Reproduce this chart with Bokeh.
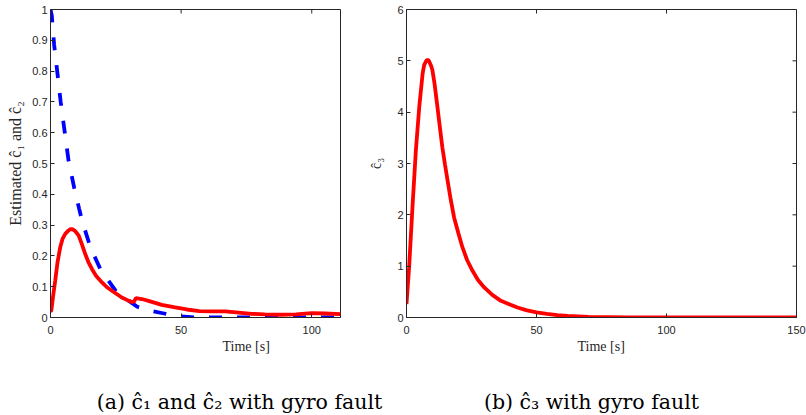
import math
from bokeh.plotting import figure
from bokeh.models import Range1d, FixedTicker, Title
from bokeh.layouts import row, column
from bokeh.core.properties import value
from bokeh.embed import file_html
from bokeh.resources import INLINE

# ---- data ----
t_c1 = [0, 0.3, 1.0, 1.8, 2.7, 3.7, 4.6, 5.6, 6.8, 7.4, 8.0, 8.6, 9.5, 10.8, 12.0, 13.3,
        14.5, 15.9, 17.5, 19.7, 21.5, 23.5, 27.3, 30.0, 31.1, 32.0, 32.7, 35.0, 37.5,
        42.6, 47.7, 52.2, 57, 62, 67, 72, 77, 82, 88, 94, 100, 105, 111]
c1 = [0.02, 0.022, 0.07, 0.119, 0.18, 0.227, 0.255, 0.271, 0.282, 0.286, 0.287, 0.286,
      0.28, 0.266, 0.238, 0.206, 0.18, 0.157, 0.135, 0.114, 0.099, 0.087, 0.065, 0.054,
      0.050, 0.052, 0.063, 0.060, 0.054, 0.041, 0.033, 0.026, 0.021, 0.020, 0.020, 0.016,
      0.012, 0.010, 0.009, 0.010, 0.014, 0.013, 0.011]

t_c2 = [0, 0.5, 1.4, 2.7, 3.9, 5.4, 6.9, 9.1, 11.0, 12.1, 15.3, 19.1, 24.9, 30.0, 33.2,
        37.1, 43.5, 48, 55, 70, 90, 111]
c2 = [1.0, 0.98, 0.885, 0.79, 0.70, 0.605, 0.51, 0.42, 0.352, 0.314, 0.227, 0.157, 0.087,
      0.054, 0.035, 0.024, 0.013, 0.005, 0.0, 0.0, 0.0, 0.0]

t_c3 = [0, 1.0, 2.3, 3.6, 4.9, 6.2, 6.8, 7.6, 8.1, 8.6, 9.5, 10.0, 10.8, 11.9, 12.8,
        13.8, 14.8, 15.8, 17.0, 18.3, 19.9, 21.5, 23.3, 25.4, 27.5, 29.9, 33.0, 36.3,
        39.5, 42.7, 46, 50, 54, 58, 62, 70, 85, 100, 125, 150]
c3 = [0.26, 0.975, 2.15, 3.25, 4.1, 4.75, 4.92, 5.0, 5.02, 5.0, 4.9, 4.81, 4.55, 4.1,
      3.72, 3.31, 2.98, 2.67, 2.3, 1.95, 1.65, 1.37, 1.12, 0.91, 0.73, 0.585, 0.44, 0.325,
      0.26, 0.195, 0.145, 0.10, 0.07, 0.045, 0.03, 0.012, 0.003, 0.0, 0.0, 0.0]

x_ticks = [0, 50, 100, 150]
y1_ticks = [0, 0.1, 0.2, 0.3, 0.4, 0.5, 0.6, 0.7, 0.8, 0.9, 1]
y1_labels = ["0", "0.1", "0.2", "0.3", "0.4", "0.5", "0.6", "0.7", "0.8", "0.9", "1"]
y3_ticks = [0, 1, 2, 3, 4, 5, 6]
y3_labels = ["0", "1", "2", "3", "4", "5", "6"]
x1_end, x3_end = 111, 150

ylabel1 = "Estimated ĉ₁ and ĉ₂"
ylabel3 = "ĉ₃"
xlabel = "Time [s]"
captions = ["(a) ĉ₁ and ĉ₂ with gyro fault", "(b) ĉ₃ with gyro fault"]

AX = "#262626"
SANS = "Liberation Sans"
SERIF = "Liberation Serif"
CAPFONT = "DejaVu Serif"
H = 375          # height of the two plot panels
CAP_H = 40       # height of the caption strip below them
W1, W2 = 365, 441


def style_axis(ax, standoff):
    ax.major_tick_in = 4
    ax.major_tick_out = 0
    ax.minor_tick_line_color = None
    ax.axis_line_color = AX
    ax.major_tick_line_color = AX
    ax.major_label_text_color = AX
    ax.major_label_text_font = SANS
    ax.major_label_text_font_size = "11px"
    ax.major_label_standoff = standoff


def make_fig(width, xr, yr, bl, br):
    p = figure(width=width, height=H, x_range=Range1d(*xr), y_range=Range1d(*yr),
               output_backend="svg", toolbar_location=None,
               min_border_left=bl, min_border_right=br, min_border_top=9,
               min_border_bottom=58)
    p.xgrid.visible = False
    p.ygrid.visible = False
    p.outline_line_color = AX
    p.outline_line_width = 1
    return p


def add_xlabel(p, xoff):
    p.add_layout(Title(text=xlabel, align="left", offset=xoff, text_font=SERIF,
                       text_font_size="14px", text_font_style="normal",
                       text_color=AX, standoff=1), "below")


def add_ylabel(p, text, size, standoff):
    p.yaxis.axis_label = text
    p.yaxis.axis_label_text_font = SERIF
    p.yaxis.axis_label_text_font_style = "normal"
    p.yaxis.axis_label_text_font_size = size
    p.yaxis.axis_label_text_color = AX
    p.yaxis.axis_label_standoff = standoff


# ---- left panel ----
p1 = make_fig(W1, (0, x1_end), (y1_ticks[0], y1_ticks[-1]), 50, 25)
p1.line(t_c2, c2, line_color="#0000FF", line_width=3.8, line_dash="13 15")
p1.line(t_c1, c1, line_color="#FF0000", line_width=3.8)
p1.xaxis.ticker = FixedTicker(ticks=x_ticks)
p1.yaxis.ticker = FixedTicker(ticks=y1_ticks)
p1.yaxis.major_label_overrides = dict(zip(y1_ticks, y1_labels))
style_axis(p1.xaxis[0], 8)
style_axis(p1.yaxis[0], 3)
add_ylabel(p1, ylabel1, "16px", 5)
# mirrored ticks on the top edge
p1.ray(x=x_ticks, y=[y1_ticks[-1]] * len(x_ticks), length=4, length_units="screen",
       angle=-math.pi / 2, line_color=AX, line_width=1)
add_xlabel(p1, 172)

# ---- right panel ----
p2 = make_fig(W2, (0, x3_end), (y3_ticks[0], y3_ticks[-1]), 41, 10)
p2.line(t_c3, c3, line_color="#FF0000", line_width=3.8)
p2.xaxis.ticker = FixedTicker(ticks=x_ticks)
p2.yaxis.ticker = FixedTicker(ticks=y3_ticks)
p2.yaxis.major_label_overrides = dict(zip(y3_ticks, y3_labels))
style_axis(p2.xaxis[0], 8)
style_axis(p2.yaxis[0], 3)
add_ylabel(p2, ylabel3, "14px", 10)
p2.ray(x=x_ticks, y=[y3_ticks[-1]] * len(x_ticks), length=4, length_units="screen",
       angle=-math.pi / 2, line_color=AX, line_width=1)
p2.ray(x=[x3_end] * len(y3_ticks), y=y3_ticks, length=4, length_units="screen",
       angle=math.pi, line_color=AX, line_width=1)
add_xlabel(p2, 171)

# ---- caption strip (sub-figure captions, positioned in pixels) ----
pc = figure(width=W1 + W2, height=CAP_H, x_range=Range1d(0, W1 + W2),
            y_range=Range1d(0, CAP_H), output_backend="svg", toolbar_location=None,
            min_border=0)
pc.axis.visible = False
pc.xgrid.visible = False
pc.ygrid.visible = False
pc.outline_line_color = None
pc.text(x=[239, 591], y=[14, 14], text=captions, text_font=value(CAPFONT),
        text_font_size=value("20.5px"), text_color="black", text_align="center",
        text_baseline="middle")

layout = column(row(p1, p2), pc)
open("out.html", "w").write(file_html(layout, INLINE))
